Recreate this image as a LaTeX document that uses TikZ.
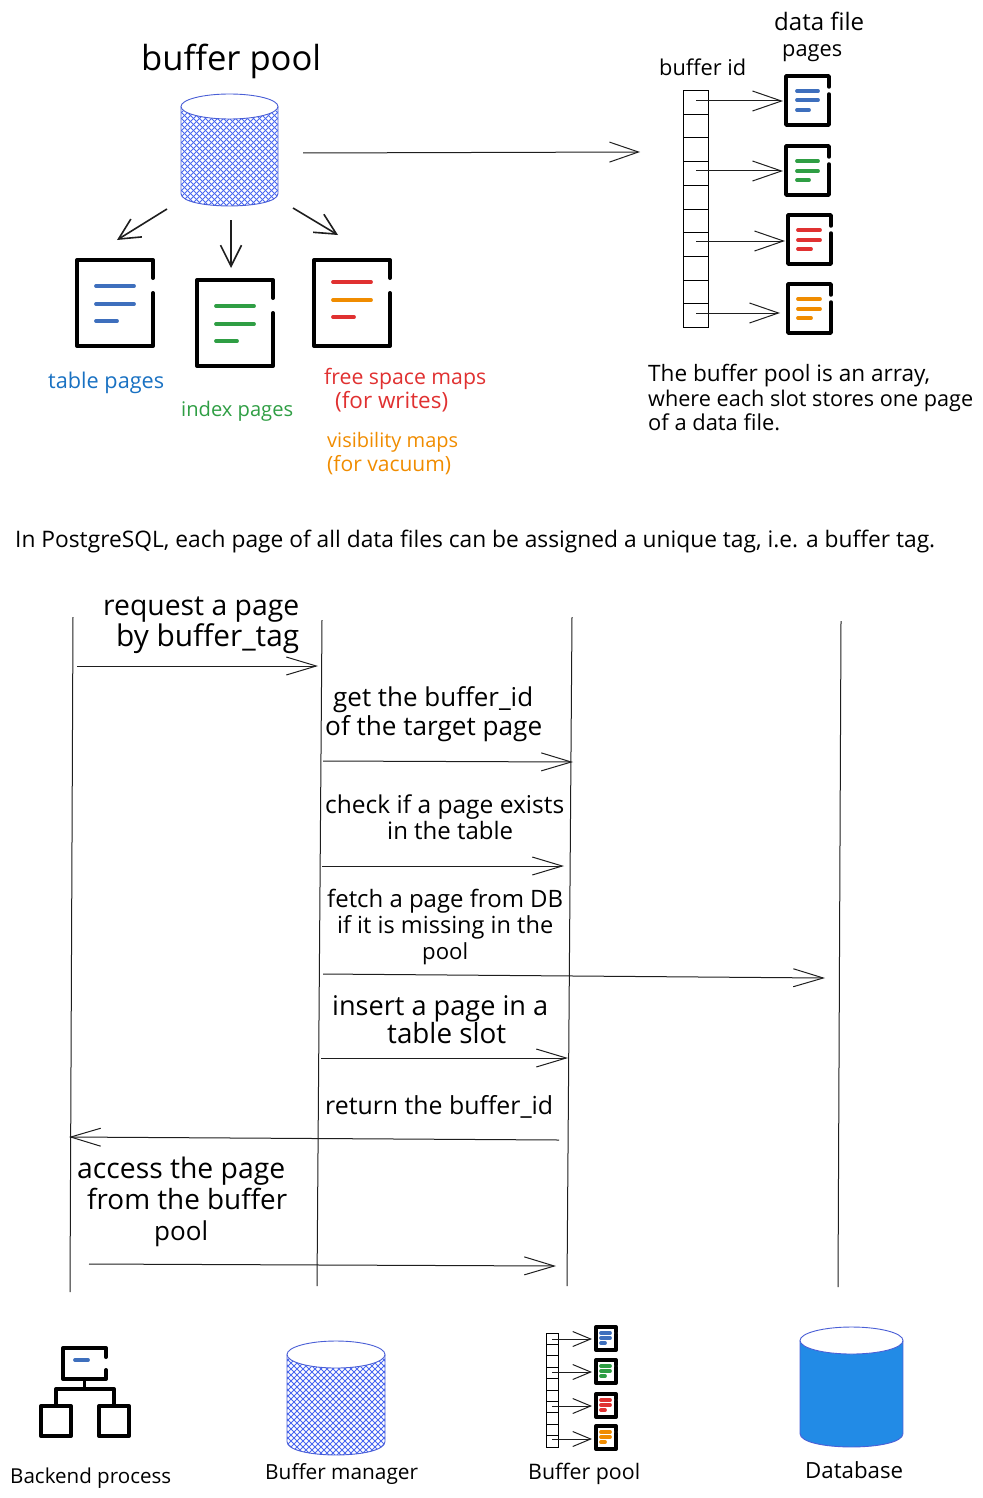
\documentclass[tikz,border=0pt]{standalone}
\usepackage{graphicx}
\usepackage{fontspec}
\setmainfont{Open Sans}
\usetikzlibrary{arrows.meta}
\definecolor{iblue}{HTML}{3E6FBD}
\definecolor{tblue}{HTML}{1971C2}
\definecolor{igreen}{HTML}{2F9E44}
\definecolor{ired}{HTML}{E03131}
\definecolor{iorange}{HTML}{F08C00}
\definecolor{cylblue}{HTML}{4A5FD6}
\definecolor{hatchblue}{HTML}{4A68F0}
\definecolor{dbblue}{HTML}{228BE6}
\definecolor{ink}{HTML}{1E1E1E}
\newcommand{\fw}[2]{\resizebox{#1pt}{!}{#2}}
% page icon: x1 x2 y1 y2 gap1 gap2 lw
\newcommand{\pageicon}[7]{%
  \draw[iconline,line width=#7pt] (#2,#5) -- (#2,#3) -- (#1,#3) -- (#1,#4) -- (#2,#4) -- (#2,#6);}
% three bars: x1 x2 xshort y1 y2 y3 c1 c2 c3
\newcommand{\pagebars}[9]{%
  \draw[barline,#7] (#1,#4) -- (#2,#4);
  \draw[barline,#8] (#1,#5) -- (#2,#5);
  \draw[barline,#9] (#1,#6) -- (#3,#6);}
% cylinder: x1 x2 ytop ybot ry fill-colour hatch(1/0)
\newcommand{\cyl}[7]{%
  \pgfmathsetmacro{\cxa}{#1}\pgfmathsetmacro{\cxb}{#2}
  \pgfmathsetmacro{\cyt}{#3+#5}\pgfmathsetmacro{\cyb}{#4-#5}
  \pgfmathsetmacro{\cyc}{#4-#5+1.33*#5}
  \pgfmathsetmacro{\cxm}{(#1+#2)/2}\pgfmathsetmacro{\crx}{(#2-#1)/2}
  \begin{scope}
    \clip (\cxa,\cyt) -- (\cxa,\cyb) .. controls (\cxa,\cyc) and (\cxb,\cyc) .. (\cxb,\cyb) -- (\cxb,\cyt) -- cycle;
    \fill[#6] (\cxa,#3) rectangle (\cxb,#4);
    \ifnum#7=1
      \foreach \k in {-30,...,50} {
        \draw[hatchline] (\cxa+\k*6-60,#3) -- ++(160,160);
        \draw[hatchline] (\cxb-\k*6+60,#3) -- ++(-160,160);
      }
    \fi
  \end{scope}
  \draw[cylline] (\cxa,\cyt) -- (\cxa,\cyb) .. controls (\cxa,\cyc) and (\cxb,\cyc) .. (\cxb,\cyb) -- (\cxb,\cyt);
  \draw[cylline,fill=white] (\cxm,\cyt) ellipse [x radius=\crx,y radius=#5];}
\tikzset{
  x=1pt,y=-1pt,
  iconline/.style={draw=black,line cap=round,line join=round},
  barline/.style={line width=3.8pt,line cap=round},
  hatchline/.style={draw=hatchblue,line width=0.85pt},
  cylline/.style={draw=cylblue,line width=0.9pt},
  arrowthin/.style={draw=ink,line width=1pt,-{Straight Barb[length=29pt,width=20pt,line width=1pt]}},
  arrowseq/.style={draw=ink,line width=1pt,-{Straight Barb[length=30pt,width=18pt,line width=1pt]}},
  arrowtop/.style={draw=ink,line width=1.6pt,-{Straight Barb[length=21pt,width=21pt,line width=1.6pt]}},
  arrowmini/.style={draw=ink,line width=1pt,-{Straight Barb[length=18pt,width=15pt,line width=1pt]}},
  lifeline/.style={draw=ink,line width=1pt},
  cellbox/.style={draw=black,line width=1pt,minimum width=25pt,minimum height=23.7pt,inner sep=0,outer sep=0},
  minicell/.style={draw=black,line width=0.8pt,fill=white,minimum width=12pt,minimum height=11.4pt,inner sep=0,outer sep=0},
  txt/.style={inner sep=0,align=left,anchor=west,font=\fontsize{20}{#1}\selectfont},
  txt/.default=25pt
}
\begin{document}
\begin{tikzpicture}
\useasboundingbox (0,0) rectangle (982,1498);

% ---------- top left ----------
\node[txt,text=black] (title) at (141,61) {\fw{180}{buffer pool}};
\cyl{181}{278}{94}{206}{12.5}{white}{1}

\pageicon{77}{153}{260}{346}{278}{293}{4}
\pagebars{96}{134}{117}{286}{304}{321}{iblue}{iblue}{iblue}
\pageicon{197}{273}{280}{366}{298}{313}{4}
\pagebars{216}{254}{237}{306}{324}{341}{igreen}{igreen}{igreen}
\pageicon{314}{390}{260}{346}{278}{293}{4}
\pagebars{333}{371}{354}{282}{300}{317}{ired}{iorange}{ired}

\coordinate (pa1) at (167,209); \coordinate (pa2) at (117,240);
\coordinate (pb1) at (231,220); \coordinate (pb2) at (231,268);
\coordinate (pc1) at (293,208); \coordinate (pc2) at (338,235);
\draw[arrowtop] (pa1) -- (pa2);
\draw[arrowtop] (pb1) -- (pb2);
\draw[arrowtop] (pc1) -- (pc2);
\coordinate (ma1) at (303,153); \coordinate (ma2) at (640,152);
\draw[arrowthin] (ma1) -- (ma2);

\node[txt,text=tblue] (ttable) at (48,383) {\fw{116}{table pages}};
\node[txt,text=igreen] (tindex) at (181,411) {\fw{112}{index pages}};
\node[txt=24pt,text=ired] (tfree) at (324,390) {\fw{162}{free space maps}\\\hspace*{11pt}\fw{113}{(for writes)}};
\node[txt=24pt,text=iorange] (tvis) at (327,454) {\fw{131}{visibility maps}\\\fw{124}{(for vacuum)}};

% ---------- top right ----------
\node[txt=26pt] (tdata) at (774,37) {\fw{90}{data file}\\\hspace*{8pt}\fw{60}{pages}};
\node[txt] (tbid) at (659,67) {\fw{87}{buffer id}};
\foreach \i in {1,...,10} {
  \pgfmathsetmacro{\cy}{90.5+(\i-0.5)*23.7}
  \node[cellbox] (c\i) at (696,\cy) {};
}
\pageicon{786}{829}{76}{125}{87}{94}{3.5}
\pagebars{797}{818}{809}{91}{100}{110}{iblue}{iblue}{iblue}
\pageicon{786}{829}{146}{195}{157}{164}{3.5}
\pagebars{797}{818}{809}{161}{171}{180}{igreen}{igreen}{igreen}
\pageicon{788}{831}{215}{264}{226}{233}{3.5}
\pagebars{798}{820}{811}{230}{240}{249}{ired}{ired}{ired}
\pageicon{788}{831}{284}{333}{295}{302}{3.5}
\pagebars{798}{820}{811}{299}{309}{318}{iorange}{iorange}{iorange}
\coordinate (ia) at (783,101); \coordinate (ib) at (783,171);
\coordinate (ic) at (785,241); \coordinate (id) at (780,313);
\draw[arrowthin] (c1.center |- ia) -- (ia);
\draw[arrowthin] (c4.center |- ib) -- (ib);
\draw[arrowthin] (c7.center |- ic) -- (ic);
\draw[arrowthin] (c10.center |- id) -- (id);
\node[txt=24.5pt] (tdesc) at (648,398) {\fw{282}{The buffer pool is an array,}\\\fw{325}{where each slot stores one page}\\\fw{132}{of a data file.}};

\node[txt] (ttag) at (15,542) {\fw{920}{In PostgreSQL, each page of all data files can be assigned a unique tag, i.e. a buffer tag.}};

% ---------- sequence ----------
\foreach \n/\xa/\ya/\xb/\yb in {l1/73/617/70/1292,l2/322/620/317/1286,l3/572/617/567/1286,l4/841/621/838/1287} {
  \coordinate (\n a) at (\xa,\ya);
  \coordinate (\n b) at (\xb,\yb);
  \draw[lifeline] (\n a) -- (\n b);
}
\foreach \n/\xa/\ya/\xb/\yb in {m1/77/666/318/666,m2/323/761/573/762,m3/322/866/564/866,m4/323/974/825/978,m5/321/1058/568/1058,m6/559/1140/69/1137,m7/89/1264/556/1266} {
  \coordinate (\n a) at (\xa,\ya);
  \coordinate (\n b) at (\xb,\yb);
  \draw[arrowseq] (\n a) -- (\n b);
}
\node[txt=31pt] (s1) at (103,625) {\fw{196}{request a page}\\\hspace*{13pt}\fw{183}{by buffer\_tag}};
\node[txt=29pt] (s2) at (325,714) {\hspace*{8pt}\fw{200}{get the buffer\_id}\\\fw{217}{of the target page}};
\node[txt=26pt] (s3) at (325,817) {\fw{239}{check if a page exists}\\\hspace*{62pt}\fw{126}{in the table}};
\node[txt=26pt] (s4) at (327,927) {\fw{236}{fetch a page from DB}\\\hspace*{10pt}\fw{216}{if it is missing in the}\\\hspace*{95pt}\fw{46}{pool}};
\node[txt=28pt] (s5) at (332,1020) {\fw{216}{insert a page in a}\\\hspace*{55pt}\fw{119}{table slot}};
\node[txt] (s6) at (325,1107) {\fw{228}{return the buffer\_id}};
\node[txt=31pt] (s7) at (77,1202) {\fw{208}{access the page}\\\hspace*{10pt}\fw{200}{from the buffer}\\\hspace*{77pt}\fw{54}{pool}};

% ---------- bottom legend ----------
\draw[iconline,line width=4pt] (106,1357) -- (106,1348) -- (63,1348) -- (63,1379) -- (106,1379) -- (106,1370);
\draw[barline,iblue] (75,1360) -- (88,1360);
\node[inner sep=0,minimum size=0] (bb) at (84,1379) {};
\coordinate (bbj) at (84,1389);
\draw[black,line width=3pt] (bb) -- (bbj);
\draw[black,line width=4pt,line join=round] (56,1405) -- (56,1389) -- (114,1389) -- (114,1405);
\draw[iconline,line width=4pt] (41,1406) rectangle (71,1436);
\draw[iconline,line width=4pt] (99,1406) rectangle (129,1436);
\node[txt] (l1t) at (10,1478) {\fw{161}{Backend process}};

\cyl{287}{385}{1341}{1455}{13.5}{white}{1}
\node[txt] (l2t) at (265,1474) {\fw{153}{Buffer manager}};

\foreach \i in {1,...,10} {
  \pgfmathsetmacro{\cy}{1333+(\i-0.5)*11.4}
  \node[minicell] (d\i) at (552,\cy) {};
}
\pageicon{596}{616}{1327}{1350}{1332}{1334}{4}
\pagebars{601}{610}{605}{1333}{1338}{1343}{iblue}{iblue}{iblue}
\pageicon{596}{616}{1360}{1383}{1365}{1367}{4}
\pagebars{601}{610}{605}{1366}{1371}{1376}{igreen}{igreen}{igreen}
\pageicon{596}{616}{1394}{1417}{1399}{1401}{4}
\pagebars{601}{610}{605}{1400}{1405}{1410}{ired}{ired}{ired}
\pageicon{596}{616}{1426}{1449}{1431}{1433}{4}
\pagebars{601}{610}{605}{1432}{1437}{1442}{iorange}{iorange}{iorange}
\coordinate (ja) at (592,1339); \coordinate (jb) at (592,1372);
\coordinate (jc) at (592,1406); \coordinate (jd) at (592,1439);
\draw[arrowmini] (d1.center |- ja) -- (ja);
\draw[arrowmini] (d4.center |- jb) -- (jb);
\draw[arrowmini] (d7.center |- jc) -- (jc);
\draw[arrowmini] (d10.center |- jd) -- (jd);
\node[txt] (l3t) at (528,1474) {\fw{112}{Buffer pool}};

\cyl{800}{903}{1327}{1447}{13.5}{dbblue}{0}
\node[txt] (l4t) at (805,1470) {\fw{98}{Database}};
\end{tikzpicture}
\end{document}
